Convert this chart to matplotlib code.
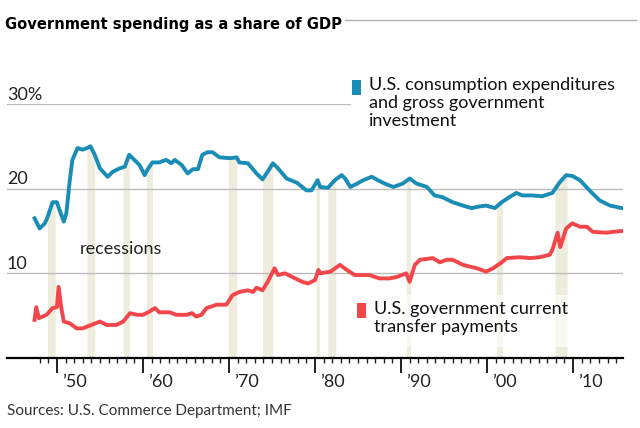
import numpy as np
import matplotlib
matplotlib.use("Agg")
import matplotlib.pyplot as plt
from matplotlib.patches import Rectangle
from matplotlib.lines import Line2D

# --- data (% of GDP) ---
blue_years = [1947.4, 1948.0, 1948.6, 1948.9, 1949.5, 1950.0, 1950.3, 1950.8, 1951.1, 1951.5,
              1951.8, 1952.4, 1953.0, 1953.5, 1953.9, 1954.4, 1955.0, 1955.9, 1956.5, 1957.3,
              1957.9, 1958.4, 1959.0, 1959.6, 1960.2, 1960.5, 1961.1, 1961.9, 1962.7, 1963.3,
              1963.7, 1964.5, 1965.2, 1965.8, 1966.4, 1966.9, 1967.5, 1968.1, 1968.9, 1970.1,
              1970.9, 1971.2, 1972.2, 1973.2, 1973.9, 1974.5, 1975.1, 1975.7, 1976.7, 1977.9,
              1979.0, 1979.6, 1980.3, 1980.6, 1981.5, 1982.3, 1983.1, 1983.5, 1984.1, 1984.9,
              1985.6, 1986.6, 1987.3, 1988.1, 1989.1, 1990.2, 1991.0, 1991.8, 1993.0, 1993.9,
              1994.8, 1996.0, 1997.2, 1998.2, 1999.1, 1999.9, 2000.9, 2001.7, 2002.6, 2003.4,
              2004.1, 2005.3, 2006.4, 2007.6, 2008.4, 2009.2, 2009.9, 2010.8, 2011.9, 2013.1,
              2014.3, 2015.7]
blue_vals = [16.5, 15.3, 15.9, 16.6, 18.4, 18.4, 17.5, 16.1, 17.1, 21.0,
             23.4, 24.8, 24.6, 24.8, 25.0, 24.0, 22.4, 21.4, 22.0, 22.4,
             22.6, 24.0, 23.4, 22.8, 21.6, 22.2, 23.1, 23.1, 23.4, 23.0,
             23.4, 22.8, 21.8, 22.3, 22.3, 24.0, 24.3, 24.3, 23.7, 23.6,
             23.7, 23.1, 23.0, 21.8, 21.1, 22.0, 23.0, 22.4, 21.2, 20.7,
             19.8, 19.8, 21.0, 20.2, 20.1, 21.0, 21.6, 21.2, 20.2, 20.6,
             21.0, 21.4, 21.0, 20.6, 20.2, 20.6, 21.2, 20.6, 20.2, 19.2,
             19.0, 18.4, 18.0, 17.7, 17.9, 18.0, 17.7, 18.4, 19.0, 19.5,
             19.2, 19.2, 19.1, 19.5, 20.7, 21.6, 21.5, 21.0, 19.8, 18.6,
             18.0, 17.7]

red_years = [1947.4, 1947.6, 1947.9, 1948.8, 1949.5, 1950.0, 1950.2, 1950.5, 1950.8, 1951.5,
             1952.3, 1953.0, 1954.0, 1955.0, 1955.8, 1956.9, 1957.7, 1958.5, 1959.3, 1960.0,
             1960.6, 1961.4, 1961.9, 1963.1, 1963.9, 1965.1, 1965.7, 1966.2, 1966.8, 1967.4,
             1968.6, 1969.7, 1970.4, 1971.2, 1972.2, 1972.8, 1973.2, 1973.9, 1974.5, 1975.3,
             1975.7, 1976.5, 1977.3, 1978.5, 1979.2, 1980.0, 1980.4, 1980.6, 1981.8, 1982.9,
             1983.7, 1984.6, 1985.6, 1986.3, 1987.5, 1988.7, 1989.6, 1990.6, 1991.0, 1991.6,
             1992.2, 1993.7, 1994.5, 1995.3, 1996.0, 1997.2, 1998.8, 1999.9, 2000.7, 2001.7,
             2002.3, 2003.8, 2005.0, 2006.1, 2007.3, 2007.6, 2008.2, 2008.5, 2009.2, 2009.9,
             2010.8, 2011.6, 2012.3, 2013.9, 2014.6, 2015.7]
red_vals = [4.5, 6.0, 4.7, 5.1, 5.9, 6.0, 8.4, 6.0, 4.3, 4.1,
            3.5, 3.5, 3.9, 4.3, 3.9, 3.9, 4.3, 5.3, 5.1, 5.1,
            5.4, 5.9, 5.4, 5.4, 5.1, 5.1, 5.3, 4.9, 5.1, 5.9,
            6.3, 6.3, 7.4, 7.8, 8.0, 7.8, 8.3, 8.0, 9.0, 10.6,
            9.8, 10.0, 9.6, 9.0, 8.8, 9.2, 10.4, 10.0, 10.2, 11.0,
            10.4, 9.8, 9.8, 9.8, 9.4, 9.4, 9.6, 10.0, 9.0, 11.0,
            11.6, 11.8, 11.3, 11.6, 11.6, 11.0, 10.6, 10.2, 10.6, 11.3,
            11.8, 11.9, 11.8, 11.9, 12.2, 12.8, 14.8, 13.1, 15.3, 15.9,
            15.5, 15.5, 14.9, 14.8, 14.9, 15.0]

recessions = [(1948.9, 1949.8), (1953.5, 1954.4), (1957.7, 1958.4), (1960.4, 1961.1),
              (1969.9, 1970.9), (1973.9, 1975.1), (1980.1, 1980.5), (1981.5, 1982.4),
              (1990.6, 1991.1), (2001.1, 2001.8), (2007.9, 2009.3)]

major_years = [1950, 1960, 1970, 1980, 1990, 2000, 2010]
major_labels = ["\u201950", "\u201960", "\u201970", "\u201980", "\u201990", "\u201900", "\u201910"]
grid_vals = [10, 20, 30]
grid_labels = ["10", "20", "30%"]

BLUE = "#1a8db6"
RED = "#f2464a"
BAR = "#eeecdd"
W, H = 640, 428

plt.rcParams['font.family'] = ['Lato', 'DejaVu Sans']


def fx(px):
    return px / W


def fy(py):
    return 1 - py / H


fig = plt.figure(figsize=(6.4, 4.28), dpi=100)
ax = fig.add_axes([fx(7), fy(358), (623 - 7) / W, (358 - 104) / H])
ax.set_xlim(1944.2, 2015.8)
ax.set_ylim(0, 30)

# recession bars, up to the blue line
for start, end in recessions:
    xs = np.linspace(start, end, 20)
    ax.fill_between(xs, 0, np.interp(xs, blue_years, blue_vals), color=BAR, lw=0, zorder=1)

# gridlines
for v, lab in zip(grid_vals, grid_labels):
    xmax = (350 - 7) / (623 - 7) if v == 30 else 1
    ax.axhline(v, xmin=0, xmax=xmax, color="#bdbdbd", lw=1, zorder=2)
    ax.text(1944.2, v + 0.5, lab, fontsize=13, color="#222222", va="baseline", ha="left")

ax.plot(blue_years, blue_vals, color=BLUE, lw=2.8, zorder=4, solid_joinstyle="round")
ax.plot(red_years, red_vals, color=RED, lw=2.8, zorder=4, solid_joinstyle="round")

# axes styling
for s in ["top", "right", "left"]:
    ax.spines[s].set_visible(False)
ax.spines["bottom"].set_linewidth(1.6)
ax.spines["bottom"].set_zorder(5)
ax.set_yticks([])
ax.set_xticks(major_years)
ax.set_xticks(range(1948, 2016), minor=True)
ax.tick_params(axis="x", which="major", length=11, width=1.4, color="#222222", labelbottom=False)
ax.tick_params(axis="x", which="minor", length=3.8, width=1.0, color="#222222")
for yr, lab in zip(major_years, major_labels):
    ax.text(yr + 0.55, -3.4, lab, fontsize=13, color="#222222", va="baseline", ha="left",
            clip_on=False)

ax.text(1952.6, 12.9, "recessions", fontsize=13, color="#222222", va="center", ha="left")

# legends
fig.add_artist(Rectangle((fx(352), fy(95)), 9 / W, 15 / H, transform=fig.transFigure,
                         color=BLUE, lw=0))
fig.text(fx(369), fy(77), "U.S. consumption expenditures\nand gross government\ninvestment",
         fontsize=13, color="#111111", va="top", ha="left", linespacing=1.15)

fig.add_artist(Rectangle((fx(350), fy(347)), 225 / W, 52 / H, transform=fig.transFigure,
                         color="white", alpha=0.7, lw=0, zorder=3))
fig.add_artist(Rectangle((fx(357), fy(318)), 9 / W, 15 / H, transform=fig.transFigure,
                         color=RED, lw=0, zorder=4))
fig.text(fx(374), fy(301), "U.S. government current\ntransfer payments",
         fontsize=13, color="#111111", va="top", ha="left", linespacing=1.15, zorder=5)

# title and source
fig.text(fx(5), fy(25), "Government spending as a share of GDP", fontsize=11.8,
         weight="bold", fontstretch="condensed", family="DejaVu Sans",
         va="center", ha="left")
fig.add_artist(Line2D([fx(345), fx(636)], [fy(20), fy(20)], transform=fig.transFigure,
                      color="#b0b0b0", lw=1))
fig.text(fx(7), fy(411), "Sources: U.S. Commerce Department; IMF", fontsize=11,
         color="#333333", va="center", ha="left")

fig.savefig("out.png", dpi=100)
